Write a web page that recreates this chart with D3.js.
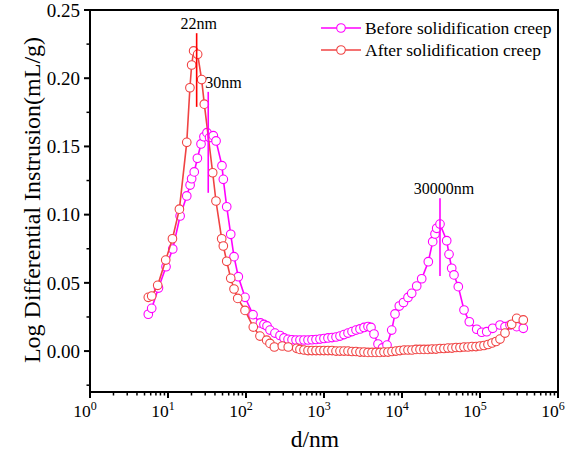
<!DOCTYPE html>
<html>
<head>
<meta charset="utf-8">
<script src="https://cdn.jsdelivr.net/npm/d3@7"></script>
<style>
  body { margin: 0; background: #fff; }
  svg { display: block; font-family: "Liberation Serif", "Times New Roman", serif; }
</style>
</head>
<body>
<div class="graph-container"></div>
<script>
// Before solidification creep (magenta)
const beforeD = [5.59, 6.18, 7.55, 9.43, 11.5, 14.3, 17.4, 19.2, 20.1, 21.7, 23.8, 26.5, 28.9, 31.6, 34.1, 38.1, 41.3,
  49.2, 51.2, 56.6, 63.7, 70.2, 79.7, 97.1, 123, 153, 170, 186, 203, 235, 273, 307, 346, 389, 438, 492, 554, 624,
  702, 790, 889, 1000, 1125, 1267, 1426, 1604, 1805, 2032, 2286, 2572, 2895, 3258, 3666, 4004, 4375, 4924, 5623,
  6424, 7379, 8136, 9236, 10450, 11940, 13320, 15440, 17890, 21740, 24750, 26490, 27860, 30700, 37420, 40060,
  43380, 46420, 52700, 62350, 72920, 90720, 105100, 121900, 145500, 180500, 209200, 242400, 295400, 359000];
const beforeV = [0.0270, 0.0313, 0.0462, 0.0618, 0.0748, 0.0990, 0.1137, 0.1217, 0.1263, 0.1313, 0.1413, 0.1518,
  0.1571, 0.1601, 0.1565, 0.1579, 0.1540, 0.1359, 0.1259, 0.1058, 0.0856, 0.0692, 0.0545, 0.0394, 0.0267, 0.0206,
  0.0195, 0.0184, 0.0154, 0.0132, 0.0114, 0.0096, 0.0086, 0.0083, 0.0081, 0.0081, 0.0081, 0.0081, 0.0083, 0.0085,
  0.0088, 0.0092, 0.0096, 0.0099, 0.0103, 0.0110, 0.0121, 0.0132, 0.0143, 0.0154, 0.0162, 0.0173, 0.0180, 0.0173,
  0.0125, 0.0052, 0.0023, 0.0044, 0.0154, 0.0272, 0.0330, 0.0356, 0.0393, 0.0423, 0.0477, 0.0530, 0.0655, 0.0802,
  0.0858, 0.0900, 0.0931, 0.0809, 0.0709, 0.0607, 0.0558, 0.0472, 0.0301, 0.0215, 0.0160, 0.0138, 0.0142, 0.0167,
  0.0191, 0.0179, 0.0191, 0.0179, 0.0167];

// After solidification creep (red)
const afterD = [5.59, 6.18, 7.38, 9.35, 11.4, 14.0, 17.4, 19.1, 20.1, 21.3, 24.0, 27.0, 29.2, 37.4, 41.2, 48.8, 51.2,
  56.6, 63.7, 70.2, 78.3, 97.1, 124, 151, 184, 203, 231, 292, 348, 447, 492, 554, 624, 702, 790, 889, 1000, 1125,
  1267, 1426, 1604, 1805, 2032, 2286, 2572, 2895, 3258, 3666, 4125, 4642, 5224, 5878, 6615, 7444, 8377, 9427,
  10610, 11940, 13430, 15120, 17010, 19140, 21540, 24240, 27280, 30700, 34550, 38870, 43750, 49230, 55400, 62340,
  70150, 78940, 88840, 100000, 112500, 126600, 142600, 160400, 180500, 209200, 254700, 295500, 359000];
const afterV = [0.0394, 0.0403, 0.0482, 0.0667, 0.0823, 0.104, 0.153, 0.193, 0.2097, 0.220, 0.2175, 0.199, 0.181,
  0.1307, 0.110, 0.0823, 0.077, 0.0658, 0.0533, 0.0455, 0.0386, 0.0298, 0.0176, 0.011, 0.008, 0.0056, 0.003, 0.0037,
  0.003, 0.002, 0.0012, 0.0008, 0.0004, 0.0004, 0.0004, 0.0004, 0.0004, 0.0004, 0.0004, 0.0, 0.0, 0.0, 0.0,
  -0.0003, -0.0003, -0.0007, -0.0007, -0.0010, -0.0010, -0.0010, -0.0010, -0.0007, -0.0007, -0.0003, 0.0, 0.0004,
  0.0008, 0.0008, 0.0008, 0.0012, 0.0012, 0.0012, 0.0012, 0.0015, 0.0015, 0.0019, 0.0019, 0.0022, 0.0022, 0.0026,
  0.0026, 0.0030, 0.0030, 0.0033, 0.0033, 0.0037, 0.0041, 0.0048, 0.0059, 0.0070, 0.0088, 0.0132, 0.0196, 0.0240,
  0.0228];

const seriesNames = ['Before solidification creep', 'After solidification creep'];

// Peak annotations
const peakLabels = ['22nm', '30nm', '30000nm'];
const peakD = [23.3, 32.8, 30700];
const peakTop = [0.233, 0.190, 0.112];
const peakBottom = [0.179, 0.116, 0.055];

const yTicks = [0, 0.05, 0.10, 0.15, 0.20, 0.25];
const xExponents = [0, 1, 2, 3, 4, 5, 6];

const width = 581, height = 454;
const margin = {left: 90, top: 10, right: 23, bottom: 62};
const plotW = width - margin.left - margin.right;
const plotH = height - margin.top - margin.bottom;

const colBefore = '#ff00ff';
const colAfter = '#f04343';

const svg = d3.select('.graph-container')
  .append('svg')
  .attr('width', width)
  .attr('height', height);

const xScale = d3.scaleLog().domain([1, 1e6]).range([0, plotW]);
const yScale = d3.scaleLinear().domain([-0.03, 0.25]).range([plotH, 0]);

const panel = svg.append('g')
  .attr('transform', `translate(${margin.left},${margin.top})`);

// Series
const series = [
  {name: seriesNames[0], color: colBefore, pts: beforeD.map((d, i) => [d, beforeV[i]])},
  {name: seriesNames[1], color: colAfter, pts: afterD.map((d, i) => [d, afterV[i]])}
];

const line = d3.line().x(p => xScale(p[0])).y(p => yScale(p[1]));

series.forEach(s => {
  const g = panel.append('g');
  g.append('path')
    .datum(s.pts)
    .attr('d', line)
    .attr('fill', 'none')
    .attr('stroke', s.color)
    .attr('stroke-width', 1.6);
  g.selectAll('circle')
    .data(s.pts)
    .join('circle')
    .attr('cx', p => xScale(p[0]))
    .attr('cy', p => yScale(p[1]))
    .attr('r', 4.3)
    .attr('fill', '#fff')
    .attr('stroke', s.color)
    .attr('stroke-width', 1.1);
});

// Peak marker lines and labels
const peakColors = ['#ff0000', colBefore, colBefore];
const peakAnchor = ['middle', 'start', 'middle'];
const peakDx = [2, -3, 4];
peakLabels.forEach((lab, i) => {
  const x = xScale(peakD[i]);
  panel.append('line')
    .attr('x1', x).attr('x2', x)
    .attr('y1', yScale(peakTop[i])).attr('y2', yScale(peakBottom[i]))
    .attr('stroke', peakColors[i])
    .attr('stroke-width', 1.6);
  panel.append('text')
    .attr('x', x + peakDx[i])
    .attr('y', yScale(peakTop[i]) - 4)
    .attr('text-anchor', peakAnchor[i])
    .attr('font-size', 16)
    .text(lab);
});

// Frame
panel.append('rect')
  .attr('width', plotW).attr('height', plotH)
  .attr('fill', 'none')
  .attr('stroke', '#000')
  .attr('stroke-width', 2);

// X axis ticks
const xMinor = [];
xExponents.slice(0, -1).forEach(e => {
  for (let k = 2; k <= 9; k++) xMinor.push(k * Math.pow(10, e));
});
const xAxisG = panel.append('g').attr('transform', `translate(0,${plotH})`);
xAxisG.selectAll('.major')
  .data(xExponents)
  .join('line')
  .attr('x1', e => xScale(Math.pow(10, e))).attr('x2', e => xScale(Math.pow(10, e)))
  .attr('y1', 0).attr('y2', 6)
  .attr('stroke', '#000').attr('stroke-width', 2);
xAxisG.selectAll('.minor')
  .data(xMinor)
  .join('line')
  .attr('x1', d => xScale(d)).attr('x2', d => xScale(d))
  .attr('y1', 0).attr('y2', 3.5)
  .attr('stroke', '#000').attr('stroke-width', 1.5);
const xLab = xAxisG.selectAll('text')
  .data(xExponents)
  .join('text')
  .attr('x', e => xScale(Math.pow(10, e)) - 5)
  .attr('y', 25)
  .attr('text-anchor', 'middle')
  .attr('font-size', 17.5);
xLab.append('tspan').text('10');
xLab.append('tspan').attr('dy', -7).attr('font-size', 12).text(e => e);

// Y axis ticks
const yMinor = yTicks.slice(0, -1).map(t => t + 0.025).concat([-0.025]);
const yAxisG = panel.append('g');
yAxisG.selectAll('.major')
  .data(yTicks)
  .join('line')
  .attr('x1', -6).attr('x2', 0)
  .attr('y1', d => yScale(d)).attr('y2', d => yScale(d))
  .attr('stroke', '#000').attr('stroke-width', 2);
yAxisG.selectAll('.minor')
  .data(yMinor)
  .join('line')
  .attr('x1', -3.5).attr('x2', 0)
  .attr('y1', d => yScale(d)).attr('y2', d => yScale(d))
  .attr('stroke', '#000').attr('stroke-width', 1.5);
yAxisG.selectAll('text')
  .data(yTicks)
  .join('text')
  .attr('x', -10)
  .attr('y', d => yScale(d))
  .attr('dy', '0.35em')
  .attr('text-anchor', 'end')
  .attr('font-size', 19)
  .text(d => d3.format('.2f')(d));

// Axis titles
svg.append('text')
  .attr('x', margin.left + plotW / 2 - 9)
  .attr('y', 447)
  .attr('text-anchor', 'middle')
  .attr('font-size', 23.5)
  .text('d/nm');
svg.append('text')
  .attr('transform', `translate(40,${margin.top + 190}) rotate(-90)`)
  .attr('text-anchor', 'middle')
  .attr('font-size', 24)
  .text('Log Differential Instrusion(mL/g)');

// Legend
const legend = svg.append('g').attr('transform', 'translate(321,28)');
series.forEach((s, i) => {
  const row = legend.append('g').attr('transform', `translate(0,${i * 22})`);
  row.append('line').attr('x1', 0).attr('x2', 40).attr('y1', 0).attr('y2', 0)
    .attr('stroke', s.color).attr('stroke-width', 1.6);
  row.append('circle').attr('cx', 20).attr('cy', 0).attr('r', 4.3)
    .attr('fill', '#fff').attr('stroke', s.color).attr('stroke-width', 1.1);
  row.append('text').attr('x', 44).attr('y', 0).attr('dy', '0.35em')
    .attr('font-size', 17.5).text(s.name);
});
</script>
</body>
</html>
